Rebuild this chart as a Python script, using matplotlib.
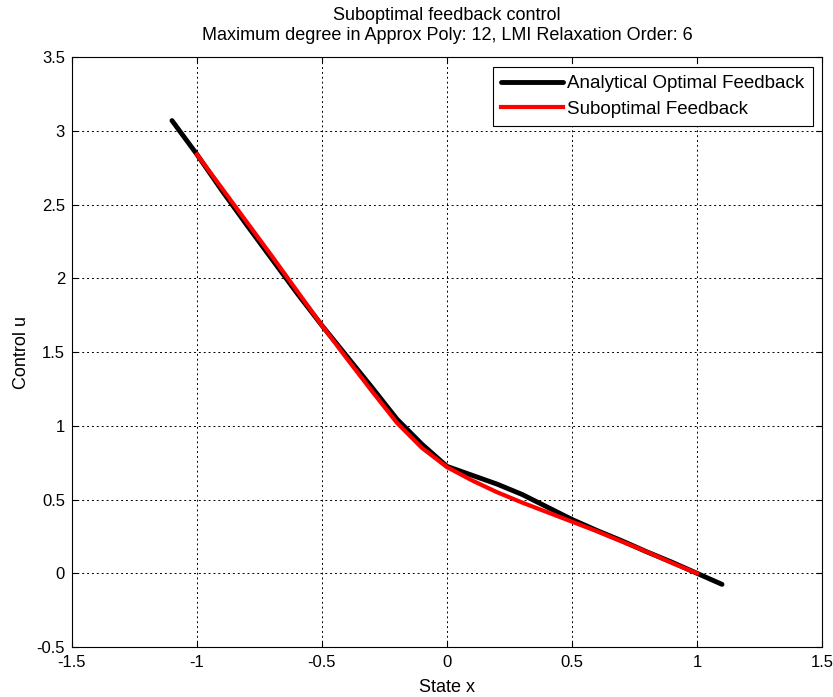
import matplotlib.pyplot as plt
import numpy as np

plt.rcParams['font.family'] = ['Liberation Sans', 'DejaVu Sans']

# analytical optimal feedback, sampled along the state
x_opt = [-1.1, -1.0, -0.9, -0.8, -0.7, -0.6, -0.5, -0.4, -0.3, -0.2, -0.1,
         0.0, 0.1, 0.2, 0.3, 0.4, 0.5, 0.6, 0.7, 0.8, 0.9, 1.0, 1.1]
u_opt = [3.07, 2.84, 2.595, 2.36, 2.13, 1.90, 1.68, 1.47, 1.26, 1.045, 0.875,
         0.725, 0.665, 0.605, 0.535, 0.45, 0.365, 0.29, 0.22, 0.145, 0.075, 0.0, -0.075]

# suboptimal (polynomial approx) feedback
x_sub = [-1.0, -0.9, -0.8, -0.7, -0.6, -0.5, -0.4, -0.3, -0.2, -0.1,
         0.0, 0.1, 0.2, 0.3, 0.4, 0.5, 0.6, 0.7, 0.8, 0.9, 1.0]
u_sub = [2.84, 2.61, 2.38, 2.15, 1.915, 1.68, 1.455, 1.235, 1.02, 0.85,
         0.72, 0.63, 0.55, 0.48, 0.415, 0.35, 0.285, 0.215, 0.145, 0.07, 0.0]

xticks = [-1.5, -1, -0.5, 0, 0.5, 1, 1.5]
yticks = [-0.5, 0, 0.5, 1, 1.5, 2, 2.5, 3, 3.5]

fig = plt.figure(figsize=(8.33, 6.97), dpi=100)
ax = fig.add_axes([0.0864, 0.0717, 0.9004, 0.8463])

ax.plot(x_opt, u_opt, color='black', lw=3.5, solid_capstyle='round',
        label='Analytical Optimal Feedback')
ax.plot(x_sub, u_sub, color='red', lw=3.0, label='Suboptimal Feedback')

ax.set_xlim(-1.5, 1.5)
ax.set_ylim(-0.5, 3.5)
ax.set_xticks(xticks)
ax.set_yticks(yticks)
ax.set_xticklabels(['%g' % t for t in xticks])
ax.set_yticklabels(['%g' % t for t in yticks])
ax.tick_params(direction='in', top=True, right=True, labelsize=12, length=4)
ax.tick_params(axis='x', pad=6)
ax.tick_params(axis='y', pad=5)
ax.grid(True, color='black', linestyle=(0, (2, 3)), linewidth=0.7)
for s in ax.spines.values():
    s.set_linewidth(0.8)

ax.set_xlabel('State x', fontsize=13, labelpad=6)
ax.set_ylabel('Control u', fontsize=13, labelpad=5)
ax.set_title('Suboptimal feedback control\n'
             'Maximum degree in Approx Poly: 12, LMI Relaxation Order: 6',
             fontsize=13, linespacing=1.3, pad=12)

leg = ax.legend(loc='upper right', fontsize=13.5, handlelength=3.3,
                handletextpad=0.2, borderpad=0.45, labelspacing=0.45,
                fancybox=False, framealpha=1, borderaxespad=0.5)
leg.get_frame().set_edgecolor('black')
leg.get_frame().set_linewidth(0.8)

fig.savefig('out.png', dpi=100)
